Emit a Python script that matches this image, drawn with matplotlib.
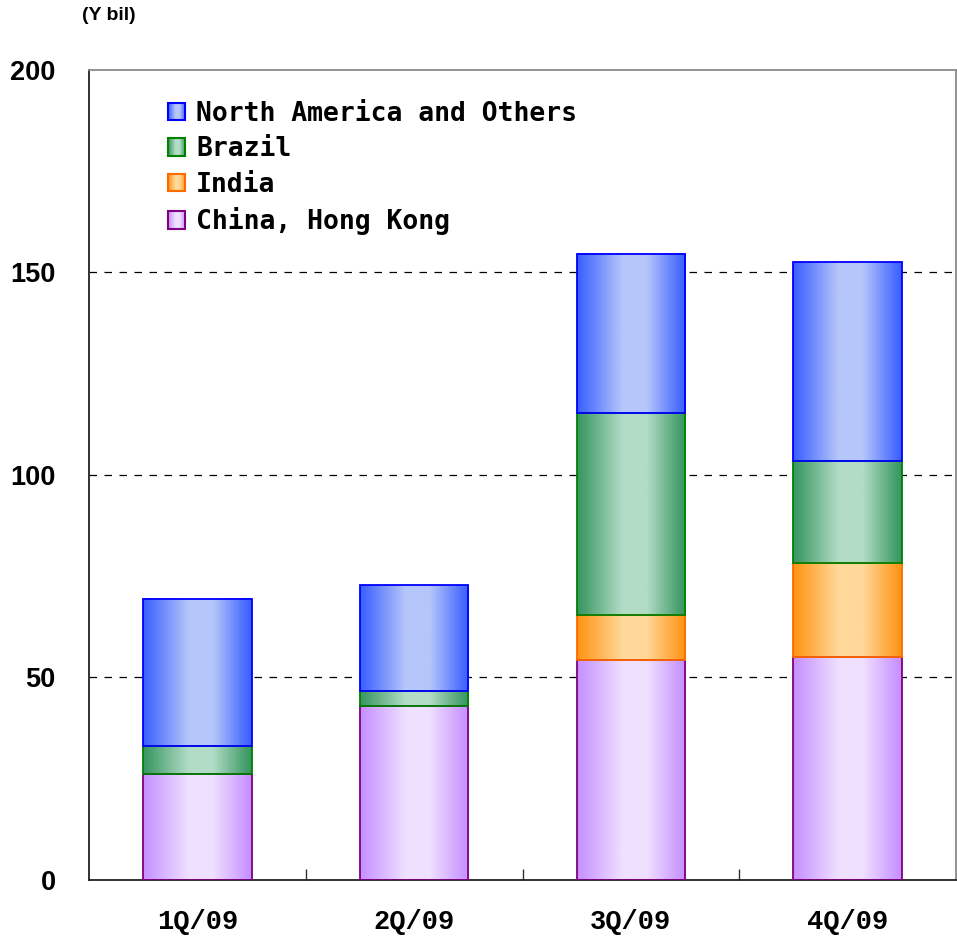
import numpy as np
import matplotlib
matplotlib.use("Agg")
from matplotlib import pyplot as plt
from matplotlib.colors import LinearSegmentedColormap
from matplotlib.patches import Rectangle
from matplotlib.legend_handler import HandlerBase
from matplotlib.image import BboxImage
from matplotlib.transforms import Bbox, TransformedBbox

quarters = ['1Q/09', '2Q/09', '3Q/09', '4Q/09']
regions = ['China, Hong Kong', 'India', 'Brazil', 'North America and Others']

# sales by region, Y bil (stacked bottom to top)
china = [26.2, 43.0, 54.3, 55.1]
india = [0.0, 0.0, 11.1, 23.2]
brazil = [6.9, 3.7, 49.9, 25.2]
north_america = [36.3, 26.1, 39.3, 49.1]

# (dark, light, edge) per region
styles = {
    'China, Hong Kong': ('#c690ff', '#efe0ff', '#800080'),
    'India': ('#ff9414', '#ffd89a', '#ff6a00'),
    'Brazil': ('#379660', '#b2dcc6', '#008000'),
    'North America and Others': ('#3a60ff', '#b6c6fa', '#0000ff'),
}

# horizontal lightness profile: dark edges, light band a bit right of centre
t = np.linspace(0, 1, 256)
profile = np.interp(t, [0, 0.05, 0.42, 0.64, 0.95, 1.0], [0, 0.1, 1, 1, 0.1, 0])
grad = profile[np.newaxis, :]


def make_cmap(name):
    dark, light, _ = styles[name]
    return LinearSegmentedColormap.from_list(name, [dark, light])


class GradientHandler(HandlerBase):
    def create_artists(self, legend, orig_handle, xdescent, ydescent,
                       width, height, fontsize, trans):
        name = orig_handle.get_label()
        side = height * 0.95
        x0 = -xdescent + (width - side) / 2
        y0 = -ydescent + (height - side) / 2
        bb = TransformedBbox(Bbox.from_bounds(x0, y0, side, side), trans)
        im = BboxImage(bb, cmap=make_cmap(name), interpolation='bilinear')
        im.set_data(grad)
        im.set_clim(0, 1)
        edge = Rectangle((x0, y0), side, side, fc='none',
                         ec=styles[name][2], lw=1.5, transform=trans)
        return [im, edge]


fig = plt.figure(figsize=(9.57, 9.38), dpi=100)
ax = fig.add_axes([0.093, 0.062, 0.906, 0.8635])

x = np.arange(len(quarters))
width = 0.5
bottom = np.zeros(len(quarters))
series = [china, india, brazil, north_america]
for name, vals in zip(regions, series):
    vals = np.array(vals)
    bars = ax.bar(x, vals, width, bottom=bottom, fill=False,
                  edgecolor=styles[name][2], linewidth=1.3, zorder=3)
    cmap = make_cmap(name)
    for b in bars:
        if b.get_height() <= 0:
            b.set_visible(False)
            continue
        x0, y0 = b.get_x(), b.get_y()
        ax.imshow(grad, cmap=cmap, vmin=0, vmax=1, aspect='auto',
                  interpolation='bilinear', zorder=2,
                  extent=(x0, x0 + b.get_width(), y0, y0 + b.get_height()))
    bottom += vals

ax.set_xlim(-0.5, len(quarters) - 0.5)
ax.set_ylim(0, 200)

yticks = [0, 50, 100, 150, 200]
for v in yticks[1:-1]:
    ax.axhline(v, color='black', lw=0.9, ls=(0, (6, 6)), zorder=1)

ax.set_yticks(yticks)
ax.set_yticklabels([str(v) for v in yticks], fontsize=19.5,
                   fontweight='bold', family='Liberation Sans')
ax.tick_params(axis='y', length=0, pad=24)

ax.set_xticks(x)
ax.set_xticklabels(quarters, fontsize=19.5, fontweight='bold',
                   family='Liberation Mono')
ax.tick_params(axis='x', length=0, pad=21)
ax.set_xticks(x[:-1] + 0.5, minor=True)
ax.tick_params(axis='x', which='minor', direction='in', length=8,
               color='#333333', width=1)

for side in ['left', 'bottom']:
    ax.spines[side].set_color('#222222')
    ax.spines[side].set_linewidth(1.3)
for side in ['top', 'right']:
    ax.spines[side].set_color('#8a8a8a')
    ax.spines[side].set_linewidth(1.3)

handles = [Rectangle((0, 0), 1, 1, label=n) for n in regions[::-1]]
ax.legend(handles=handles, labels=regions[::-1],
          handler_map={Rectangle: GradientHandler()},
          loc='upper left', bbox_to_anchor=(0.078, 0.975), frameon=False,
          prop={'family': 'DejaVu Sans Mono', 'size': 19, 'weight': 'bold'},
          handlelength=0.72, handletextpad=0.38, labelspacing=0.36,
          borderaxespad=0)

fig.text(0.114, 0.984, '(Y bil)', ha='center', va='center', fontsize=14,
         fontweight='bold', family='Liberation Sans')

fig.savefig('out.png', dpi=100)
